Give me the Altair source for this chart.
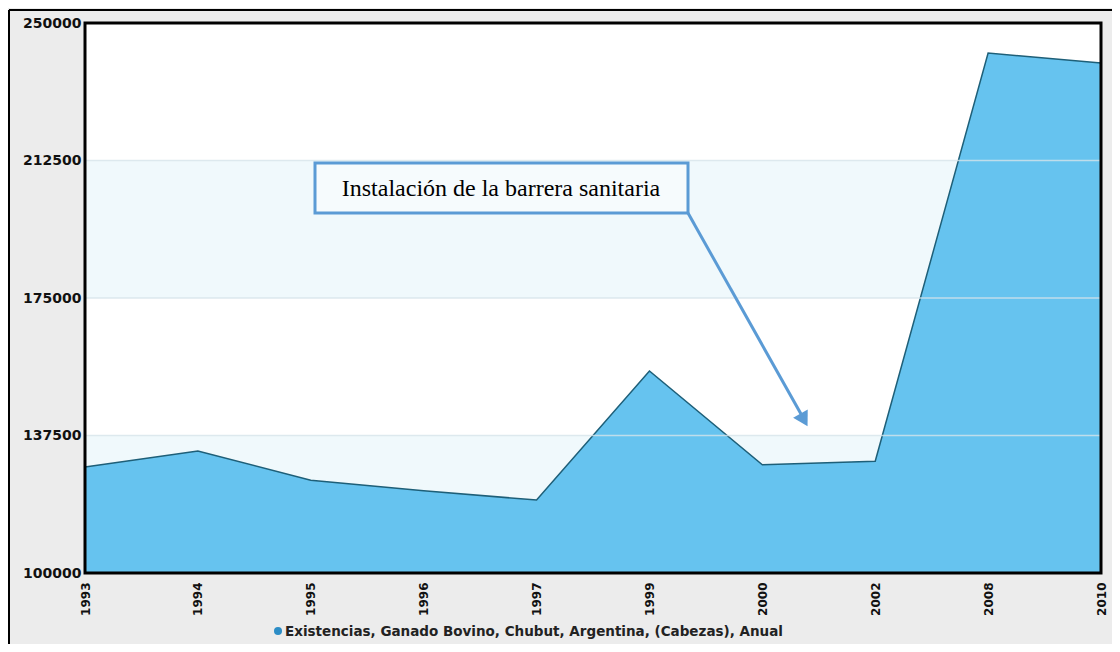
import altair as alt
import pandas as pd

years = ["1993", "1994", "1995", "1996", "1997", "1999", "2000", "2002", "2008", "2010"]
cabezas = [128900, 133300, 125300, 122400, 119900, 155100, 129500, 130500, 241800, 239100]
y_ticks = [100000, 137500, 175000, 212500, 250000]
band_lo = [100000, 175000]
band_hi = [137500, 212500]
grid_vals = [137500, 175000, 212500]
serie = "Existencias, Ganado Bovino, Chubut, Argentina, (Cabezas), Anual"
nota = "Instalación de la barrera sanitaria"

df = pd.DataFrame({"anio": years, "valor": cabezas})
bands = pd.DataFrame({"lo": band_lo, "hi": band_hi})
grid = pd.DataFrame({"v": grid_vals})
one = pd.DataFrame({"serie": [serie], "nota": [nota]})

xenc = alt.X("anio:O", sort=years, scale=alt.Scale(type="point", padding=0),
             axis=alt.Axis(title=None, labelAngle=-90, ticks=False, domain=False,
                           labelFont="DejaVu Sans", labelFontWeight="bold",
                           labelFontSize=12, labelColor="#111", labelPadding=9))
yscale = alt.Scale(domain=[100000, 250000], zero=False, nice=False)
yaxis = alt.Axis(title=None, values=y_ticks, format="d", grid=False, domain=False,
                 ticks=False, labelFont="DejaVu Sans", labelFontWeight="bold",
                 labelFontSize=14, labelColor="#111", labelPadding=4)

band_layer = alt.Chart(bands).mark_rect(color="#f0f9fc").encode(
    y=alt.Y("lo:Q", scale=yscale, axis=yaxis), y2="hi:Q")

area = alt.Chart(df).mark_area(
    color="#66c3ef", opacity=1,
    line={"color": "#1e5f78", "strokeWidth": 1.5}
).encode(x=xenc, y=alt.Y("valor:Q", scale=yscale, axis=yaxis), y2=alt.datum(100000))

grid_layer = alt.Chart(grid).mark_rule(color="#d6e3ea", strokeWidth=1.5, opacity=0.8).encode(
    y=alt.Y("v:Q", scale=yscale, axis=yaxis))

plot_frame = alt.Chart(one).mark_rect(fillOpacity=0, stroke="#000", strokeWidth=3).encode(
    x=alt.value(0), x2=alt.value(1016), y=alt.value(0), y2=alt.value(550))

box = alt.Chart(one).mark_rect(fill="#f6fbfd", stroke="#5b9bd5", strokeWidth=3).encode(
    x=alt.value(230), x2=alt.value(603), y=alt.value(140), y2=alt.value(190))
box_text = alt.Chart(one).mark_text(font="Liberation Serif", fontSize=24, color="#000",
                                    align="center", baseline="middle").encode(
    x=alt.value(416), y=alt.value(166), text="nota:N")
arrow = alt.Chart(one).mark_rule(color="#5b9bd5", strokeWidth=3).encode(
    x=alt.value(603), y=alt.value(190), x2=alt.value(716), y2=alt.value(391))
head = alt.Chart(one).mark_point(shape="triangle-up", filled=True, color="#5b9bd5",
                                 size=280, opacity=1, angle=150.6).encode(
    x=alt.value(719), y=alt.value(397))

frame_v = alt.Chart(one).mark_rule(color="#000", strokeWidth=2).encode(
    x=alt.value(-76), y=alt.value(-13), y2=alt.value(621))
frame_h = alt.Chart(one).mark_rule(color="#000", strokeWidth=2).encode(
    y=alt.value(-13), x=alt.value(-76), x2=alt.value(1040))

leg_pt = alt.Chart(one).mark_point(shape="circle", filled=True, color="#2c8dc6",
                                   size=64, opacity=1).encode(x=alt.value(193), y=alt.value(608))
leg_txt = alt.Chart(one).mark_text(font="DejaVu Sans", fontWeight="bold", fontSize=13.5,
                                   color="#222", align="left", baseline="middle").encode(
    x=alt.value(200), y=alt.value(609), text="serie:N")

chart = alt.layer(
    band_layer, area, grid_layer, plot_frame, box, box_text, arrow, head,
    frame_v, frame_h, leg_pt, leg_txt
).resolve_scale(y="shared").properties(
    width=1016, height=550,
    autosize=alt.AutoSizeParams(type="none"),
    padding={"left": 77, "top": 15, "right": 11, "bottom": 71},
    background="#ececec"
).configure_view(stroke=None, fill="white")

chart.save("out.html", embed_options={"renderer": "svg", "actions": False})
